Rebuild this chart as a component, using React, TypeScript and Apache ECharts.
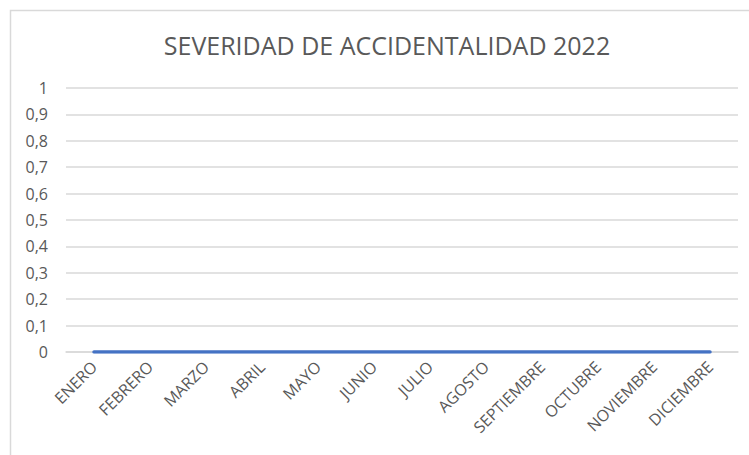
import React, { useEffect, useRef } from "react";
import * as echarts from "echarts";

const months = [
  "ENERO", "FEBRERO", "MARZO", "ABRIL", "MAYO", "JUNIO",
  "JULIO", "AGOSTO", "SEPTIEMBRE", "OCTUBRE", "NOVIEMBRE", "DICIEMBRE",
];
const severidad = [0, 0, 0, 0, 0, 0, 0, 0, 0, 0, 0, 0];
const titleText = "SEVERIDAD DE ACCIDENTALIDAD 2022";

const FONT = "'Open Sans', sans-serif";

export default function App() {
  const ref = useRef<HTMLDivElement>(null);
  useEffect(() => {
    document.body.style.margin = "0";
    if (!ref.current) return;
    const chart = echarts.init(ref.current, undefined, { renderer: "svg" });
    chart.setOption({
      animation: false,
      backgroundColor: "#ffffff",
      title: {
        text: titleText,
        left: 382,
        textAlign: "center",
        top: 27,
        textStyle: { fontFamily: FONT, fontSize: 25, fontWeight: "normal", color: "#595959" },
      },
      graphic: [
        {
          type: "rect",
          shape: { x: 10.5, y: 10.5, width: 800, height: 500 },
          style: { fill: "none", stroke: "#D9D9D9", lineWidth: 1.5 },
          silent: true,
        },
      ],
      grid: { left: 66, right: 11, top: 88, bottom: 103, containLabel: false },
      xAxis: {
        type: "category",
        data: months,
        boundaryGap: true,
        axisLine: { show: true, lineStyle: { color: "#D9D9D9", width: 1.5 } },
        axisTick: { show: false },
        axisLabel: {
          rotate: 45,
          interval: 0,
          margin: 12,
          fontFamily: FONT,
          fontSize: 16,
          color: "#595959",
        },
      },
      yAxis: {
        type: "value",
        min: 0,
        max: 1,
        interval: 0.1,
        axisLine: { show: false },
        axisTick: { show: false },
        splitLine: { lineStyle: { color: "#D9D9D9", width: 1.5 } },
        axisLabel: {
          margin: 18,
          fontFamily: FONT,
          fontSize: 16,
          color: "#595959",
          formatter: (v: number) => String(Math.round(v * 10) / 10).replace(".", ","),
        },
      },
      series: [
        {
          type: "line",
          data: severidad,
          symbol: "none",
          lineStyle: { color: "#4472C4", width: 3.5, cap: "round" },
        },
      ],
    });
    return () => chart.dispose();
  }, []);
  return <div ref={ref} style={{ width: 749, height: 455 }} />;
}
